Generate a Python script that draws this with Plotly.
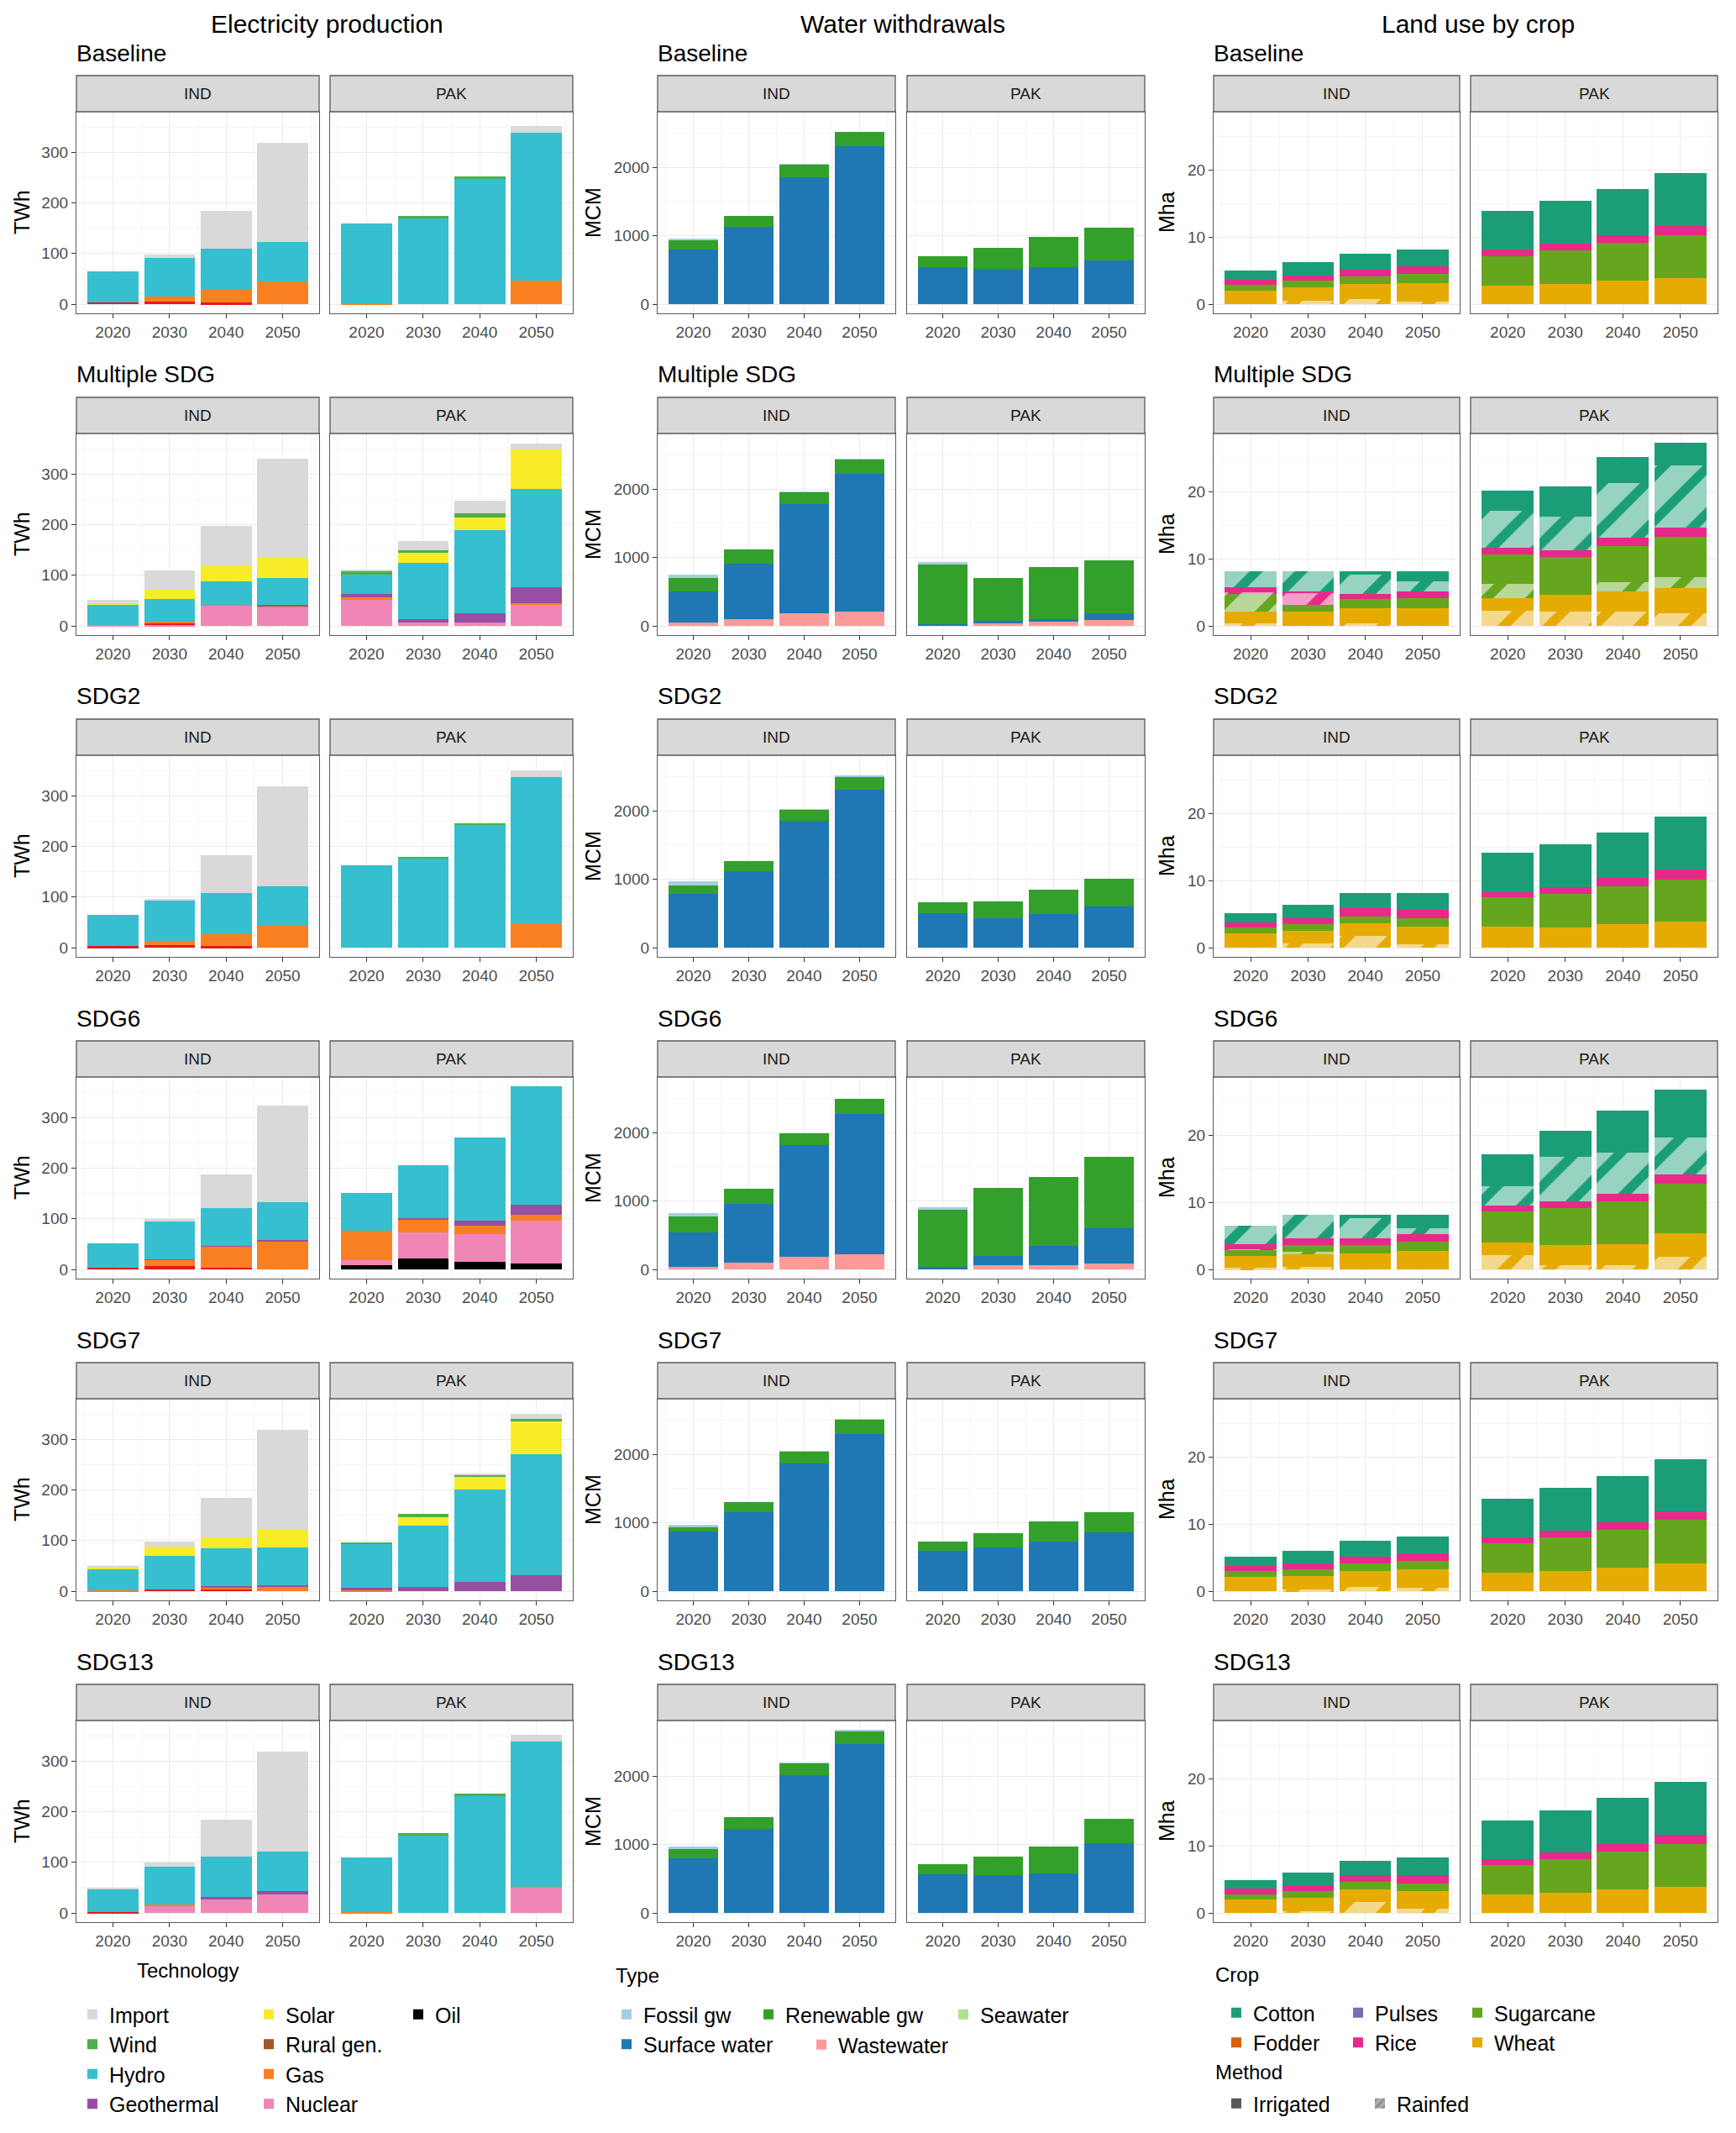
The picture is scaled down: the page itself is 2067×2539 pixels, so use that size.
import plotly.graph_objects as go

YEARS = [2020, 2030, 2040, 2050]
COUNTRIES = ["IND", "PAK"]
SCENARIOS = ["Baseline", "Multiple SDG", "SDG2", "SDG6", "SDG7", "SDG13"]

# stacking order, bottom to top
TECHNOLOGIES = ["Oil", "Nuclear", "Other", "Gas", "Rural gen.", "Geothermal", "Hydro", "Solar", "Wind", "Import"]
WATER_TYPES = ["Wastewater", "Surface water", "Seawater", "Renewable gw", "Fossil gw"]
CROPS = ["Wheat", "Sugarcane", "Rice", "Pulses", "Fodder", "Cotton"]

# ---- electricity production (TWh) ----
ELEC_BASELINE_IND = {"Other": [4, 5, 3, 0], "Gas": [0, 10, 26, 45], "Hydro": [61, 77, 80, 78], "Import": [0, 6, 75, 195]}
ELEC_BASELINE_PAK = {"Gas": [1, 0, 0, 46], "Hydro": [159, 171, 249, 292], "Wind": [0, 3, 3, 0], "Import": [0, 0, 0, 14]}
ELEC_MULTI_IND = {"Nuclear": [1, 3, 40, 38], "Other": [0, 3, 0, 0], "Gas": [0, 2, 2, 1], "Geothermal": [0, 0, 0, 3],
                  "Hydro": [40, 46, 46, 53], "Solar": [4, 17, 31, 39], "Import": [6, 38, 79, 197]}
ELEC_MULTI_PAK = {"Nuclear": [52, 6, 7, 41], "Gas": [4, 0, 0, 4], "Geothermal": [7, 8, 18, 32], "Hydro": [39, 111, 165, 193],
                  "Solar": [0, 19, 25, 78], "Wind": [7, 6, 7, 0], "Import": [1, 18, 26, 12]}
ELEC_SDG2_IND = {"Other": [3, 5, 3, 0], "Gas": [0, 9, 24, 43], "Hydro": [62, 79, 81, 78], "Import": [0, 4, 75, 197]}
ELEC_SDG2_PAK = {"Gas": [0, 0, 0, 46], "Hydro": [162, 177, 244, 291], "Wind": [0, 2, 2, 0], "Import": [0, 0, 0, 13]}
ELEC_SDG6_IND = {"Other": [4, 7, 4, 0], "Gas": [0, 12, 41, 56], "Geothermal": [0, 1, 2, 3], "Hydro": [47, 74, 74, 74],
                 "Import": [0, 6, 67, 190]}
ELEC_SDG6_PAK = {"Oil": [8, 21, 15, 11], "Nuclear": [10, 52, 55, 85], "Gas": [59, 25, 17, 12], "Geothermal": [0, 4, 10, 20],
                 "Hydro": [74, 104, 163, 234]}
ELEC_SDG7_IND = {"Other": [0, 4, 5, 0], "Gas": [1, 0, 2, 8], "Geothermal": [0, 0, 3, 4], "Hydro": [43, 66, 75, 74],
                 "Solar": [4, 18, 21, 35], "Import": [1, 10, 78, 198]}
ELEC_SDG7_PAK = {"Gas": [1, 0, 0, 0], "Geothermal": [5, 8, 18, 32], "Hydro": [87, 121, 183, 238], "Solar": [0, 17, 24, 66],
                 "Wind": [4, 6, 5, 5], "Import": [0, 0, 3, 9]}
ELEC_SDG13_IND = {"Other": [2, 0, 0, 0], "Nuclear": [0, 14, 28, 37], "Gas": [0, 3, 0, 0], "Geothermal": [0, 0, 3, 6],
                  "Hydro": [46, 75, 81, 79], "Import": [2, 7, 73, 196]}
ELEC_SDG13_PAK = {"Gas": [1, 0, 0, 2], "Nuclear": [0, 0, 0, 50], "Hydro": [108, 154, 232, 287], "Wind": [0, 3, 3, 0],
                  "Import": [0, 0, 0, 13]}

# ---- water withdrawals (MCM) ----
WATER_BASELINE_IND = {"Surface water": [800, 1130, 1850, 2310], "Renewable gw": [130, 160, 190, 210], "Fossil gw": [35, 0, 5, 0]}
WATER_BASELINE_PAK = {"Surface water": [540, 520, 540, 640], "Renewable gw": [160, 300, 440, 480]}
WATER_MULTI_IND = {"Wastewater": [55, 105, 190, 215], "Surface water": [455, 800, 1590, 2010],
                   "Renewable gw": [190, 215, 175, 210], "Fossil gw": [50, 0, 5, 5]}
WATER_MULTI_PAK = {"Wastewater": [0, 50, 65, 90], "Surface water": [30, 20, 35, 90],
                   "Renewable gw": [870, 630, 760, 785], "Fossil gw": [40, 0, 0, 0]}
WATER_SDG2_IND = {"Surface water": [790, 1120, 1855, 2310], "Renewable gw": [125, 150, 160, 190], "Fossil gw": [55, 0, 5, 10]}
WATER_SDG2_PAK = {"Surface water": [510, 430, 488, 605], "Renewable gw": [150, 248, 360, 408]}
WATER_SDG6_IND = {"Wastewater": [40, 100, 185, 220], "Surface water": [505, 865, 1635, 2050],
                  "Renewable gw": [225, 215, 175, 220], "Fossil gw": [55, 0, 0, 0]}
WATER_SDG6_PAK = {"Wastewater": [0, 60, 60, 90], "Surface water": [40, 140, 290, 515],
                  "Renewable gw": [830, 995, 1005, 1040], "Fossil gw": [40, 0, 0, 0]}
WATER_SDG7_IND = {"Surface water": [870, 1160, 1865, 2295], "Renewable gw": [70, 140, 175, 215], "Fossil gw": [30, 0, 5, 5]}
WATER_SDG7_PAK = {"Surface water": [595, 645, 725, 860], "Renewable gw": [125, 200, 290, 300]}
WATER_SDG13_IND = {"Surface water": [800, 1225, 2010, 2467], "Renewable gw": [135, 170, 183, 192], "Fossil gw": [40, 0, 5, 20]}
WATER_SDG13_PAK = {"Surface water": [570, 550, 577, 1015], "Renewable gw": [140, 275, 400, 360]}

# ---- land use by crop (Mha), irrigated and rainfed ----
LAND_BASELINE_IND_IRR = {"Wheat": [2.0, 2.0, 2.2, 2.8], "Sugarcane": [0.9, 1.0, 1.1, 1.3], "Rice": [0.8, 0.8, 1.0, 1.1], "Cotton": [1.3, 2.0, 2.4, 2.6]}
LAND_BASELINE_IND_RAIN = {"Wheat": [0, 0.5, 0.8, 0.4]}
LAND_BASELINE_PAK_IRR = {"Wheat": [2.8, 3.0, 3.5, 3.9], "Sugarcane": [4.4, 5.0, 5.6, 6.4], "Rice": [0.9, 1.0, 1.2, 1.4], "Cotton": [5.8, 6.4, 6.9, 7.8]}
LAND_BASELINE_PAK_RAIN = {}
LAND_MULTI_IND_IRR = {"Wheat": [1.7, 2.1, 2.3, 2.7], "Sugarcane": [0, 1.1, 1.3, 1.4], "Rice": [0.8, 0.2, 0.8, 1.1], "Cotton": [0, 0, 0.5, 1.5]}
LAND_MULTI_IND_RAIN = {"Wheat": [0.4, 0, 0.4, 0], "Sugarcane": [2.7, 0, 0, 0], "Rice": [0.2, 1.7, 0, 0], "Cotton": [2.4, 3.1, 2.9, 1.5]}
LAND_MULTI_PAK_IRR = {"Wheat": [1.9, 2.5, 3.0, 3.7], "Sugarcane": [4.4, 5.7, 5.4, 6.0], "Rice": [0.9, 1.0, 1.3, 1.3], "Cotton": [3.0, 4.5, 3.9, 3.4]}
LAND_MULTI_PAK_RAIN = {"Wheat": [2.3, 2.1, 2.1, 1.9], "Sugarcane": [2.1, 0, 1.4, 1.7], "Cotton": [5.5, 5.0, 8.1, 9.3]}
LAND_SDG2_IND_IRR = {"Wheat": [2.1, 1.9, 1.8, 2.7], "Sugarcane": [0.9, 1.0, 1.1, 1.2], "Rice": [0.8, 0.9, 1.2, 1.3], "Cotton": [1.4, 2.0, 2.3, 2.5]}
LAND_SDG2_IND_RAIN = {"Wheat": [0, 0.6, 1.8, 0.5]}
LAND_SDG2_PAK_IRR = {"Wheat": [3.1, 3.0, 3.5, 3.9], "Sugarcane": [4.4, 5.0, 5.7, 6.3], "Rice": [0.8, 1.0, 1.2, 1.4], "Cotton": [5.9, 6.4, 6.8, 7.9]}
LAND_SDG2_PAK_RAIN = {}
LAND_SDG6_IND_IRR = {"Wheat": [1.8, 1.9, 2.4, 2.8], "Sugarcane": [0.9, 1.0, 1.2, 1.3], "Rice": [0.8, 0.9, 1.0, 1.2], "Cotton": [0, 0, 0.5, 2.1]}
LAND_SDG6_IND_RAIN = {"Wheat": [0.2, 0.4, 0, 0], "Sugarcane": [0, 0.4, 0, 0], "Rice": [0.1, 0, 0, 0], "Cotton": [2.7, 3.6, 3.1, 0.8]}
LAND_SDG6_PAK_IRR = {"Wheat": [1.9, 3.0, 3.2, 3.5], "Sugarcane": [4.7, 5.6, 6.3, 7.4], "Rice": [0.8, 1.0, 1.2, 1.4], "Cotton": [4.8, 3.8, 6.2, 7.1]}
LAND_SDG6_PAK_RAIN = {"Wheat": [2.1, 0.6, 0.6, 1.9], "Cotton": [2.9, 6.6, 6.1, 5.5]}
LAND_SDG7_IND_IRR = {"Wheat": [2.1, 2.1, 2.3, 2.8], "Sugarcane": [0.9, 1.0, 1.1, 1.2], "Rice": [0.8, 0.9, 1.05, 1.1], "Cotton": [1.3, 1.85, 2.35, 2.6]}
LAND_SDG7_IND_RAIN = {"Wheat": [0, 0.2, 0.7, 0.5]}
LAND_SDG7_PAK_IRR = {"Wheat": [2.8, 3.0, 3.5, 4.2], "Sugarcane": [4.4, 5.0, 5.7, 6.4], "Rice": [0.8, 1.0, 1.1, 1.3], "Cotton": [5.8, 6.4, 6.9, 7.7]}
LAND_SDG7_PAK_RAIN = {}
LAND_SDG13_IND_IRR = {"Wheat": [2.0, 2.0, 1.9, 2.6], "Sugarcane": [0.8, 1.0, 1.1, 1.1], "Rice": [0.8, 0.8, 1.05, 1.2], "Cotton": [1.3, 1.9, 2.15, 2.65]}
LAND_SDG13_IND_RAIN = {"Wheat": [0, 0.3, 1.6, 0.7]}
LAND_SDG13_PAK_IRR = {"Wheat": [2.8, 3.0, 3.5, 3.9], "Sugarcane": [4.3, 5.0, 5.6, 6.4], "Rice": [0.9, 1.0, 1.2, 1.4], "Cotton": [5.8, 6.3, 6.9, 7.8]}
LAND_SDG13_PAK_RAIN = {}

TECH_COLORS = {"Import": "#D9D9D9", "Wind": "#4DAF4A", "Hydro": "#36BFCE", "Geothermal": "#984EA3", "Solar": "#F7EC27",
               "Rural gen.": "#A65628", "Gas": "#F98021", "Nuclear": "#F086B6", "Oil": "#000000", "Other": "#E41A1C"}
TYPE_COLORS = {"Fossil gw": "#A6CEE3", "Renewable gw": "#33A02C", "Seawater": "#B2DF8A", "Surface water": "#1F78B4",
               "Wastewater": "#FB9A99"}
CROP_COLORS = {"Cotton": "#1B9E77", "Fodder": "#D95F02", "Pulses": "#7570B3", "Rice": "#E7298A", "Sugarcane": "#66A61E",
               "Wheat": "#E6AB02"}

ELEC = [[ELEC_BASELINE_IND, ELEC_BASELINE_PAK], [ELEC_MULTI_IND, ELEC_MULTI_PAK], [ELEC_SDG2_IND, ELEC_SDG2_PAK],
        [ELEC_SDG6_IND, ELEC_SDG6_PAK], [ELEC_SDG7_IND, ELEC_SDG7_PAK], [ELEC_SDG13_IND, ELEC_SDG13_PAK]]
WATER = [[WATER_BASELINE_IND, WATER_BASELINE_PAK], [WATER_MULTI_IND, WATER_MULTI_PAK], [WATER_SDG2_IND, WATER_SDG2_PAK],
         [WATER_SDG6_IND, WATER_SDG6_PAK], [WATER_SDG7_IND, WATER_SDG7_PAK], [WATER_SDG13_IND, WATER_SDG13_PAK]]
LAND = [[(LAND_BASELINE_IND_IRR, LAND_BASELINE_IND_RAIN), (LAND_BASELINE_PAK_IRR, LAND_BASELINE_PAK_RAIN)],
        [(LAND_MULTI_IND_IRR, LAND_MULTI_IND_RAIN), (LAND_MULTI_PAK_IRR, LAND_MULTI_PAK_RAIN)],
        [(LAND_SDG2_IND_IRR, LAND_SDG2_IND_RAIN), (LAND_SDG2_PAK_IRR, LAND_SDG2_PAK_RAIN)],
        [(LAND_SDG6_IND_IRR, LAND_SDG6_IND_RAIN), (LAND_SDG6_PAK_IRR, LAND_SDG6_PAK_RAIN)],
        [(LAND_SDG7_IND_IRR, LAND_SDG7_IND_RAIN), (LAND_SDG7_PAK_IRR, LAND_SDG7_PAK_RAIN)],
        [(LAND_SDG13_IND_IRR, LAND_SDG13_IND_RAIN), (LAND_SDG13_PAK_IRR, LAND_SDG13_PAK_RAIN)]]

# page is 2067x2539, the html body adds an 8px margin around the figure
PAGE_W, PAGE_H, BODY = 2067, 2539, 8
W, H = PAGE_W - 2 * BODY, PAGE_H - 2 * BODY
FONT = "Liberation Sans, Arial, sans-serif"
ROW_TOP0, ROW_PITCH, STRIP_H, PANEL_H = 90, 383, 43, 240


def px(x):
    return (x - BODY) / W


def py(y):
    return 1 - (y - BODY) / H


def light(hex_color, alpha=0.45):
    h = hex_color.lstrip("#")
    rgb = [int(h[i:i + 2], 16) for i in (0, 2, 4)]
    return "rgb({},{},{})".format(*[round(255 - (255 - v) * alpha) for v in rgb])


def rainfed_pattern(color):
    return dict(shape="/", fgcolor=color, bgcolor=light(color), size=38, solidity=0.3, fillmode="replace")


def stack_max(panels):
    return max(sum(v[i] for v in p.values()) for row in panels for p in row for i in range(len(YEARS)))


land_max = max(sum(v[i] for d in pair for v in d.values()) for row in LAND for pair in row for i in range(len(YEARS)))

GROUPS = [
    dict(key="elec", title="Electricity production", title_x=389, unit="TWh", unit_x=26,
         xs=[(91, 380), (393, 682)], ymax=stack_max(ELEC), major=[0, 100, 200, 300], minor=[50, 150, 250, 350]),
    dict(key="water", title="Water withdrawals", title_x=1075, unit="MCM", unit_x=706,
         xs=[(783, 1066), (1080, 1363)], ymax=stack_max(WATER), major=[0, 1000, 2000], minor=[500, 1500, 2500]),
    dict(key="land", title="Land use by crop", title_x=1760, unit="Mha", unit_x=1389,
         xs=[(1445, 1738), (1751, 2045)], ymax=land_max, major=[0, 10, 20], minor=[5, 15, 25]),
]

fig = go.Figure()
layout_axes = {}
shapes = []
annotations = []

n = 0
for g in GROUPS:
    annotations.append(dict(x=px(g["title_x"]), y=py(29), xref="paper", yref="paper", text=g["title"], showarrow=False,
                            font=dict(size=30, color="black"), xanchor="center", yanchor="middle"))
    for r, scen in enumerate(SCENARIOS):
        strip_top = ROW_TOP0 + ROW_PITCH * r
        strip_bot = strip_top + STRIP_H
        panel_bot = strip_bot + PANEL_H
        annotations.append(dict(x=px(g["xs"][0][0] - 2), y=py(strip_top - 27), xref="paper", yref="paper", text=scen,
                                showarrow=False, font=dict(size=28, color="black"), xanchor="left", yanchor="middle"))
        annotations.append(dict(x=px(g["unit_x"]), y=py((strip_bot + panel_bot) / 2), xref="paper", yref="paper",
                                text=g["unit"], textangle=-90, showarrow=False, font=dict(size=25, color="black"),
                                xanchor="center", yanchor="middle"))
        for c, country in enumerate(COUNTRIES):
            n += 1
            x0, x1 = g["xs"][c]
            xa, ya = f"x{n}", f"y{n}"
            layout_axes[f"xaxis{n}"] = dict(
                domain=[px(x0), px(x1)], anchor=ya, range=[2013.55, 2056.45], tickvals=YEARS,
                ticks="outside", ticklen=5, tickcolor="#333333", tickfont=dict(size=19, color="#4D4D4D"),
                showline=True, mirror=True, linecolor="#5A5A5A", linewidth=1.3,
                showgrid=True, gridcolor="#EBEBEB", gridwidth=1.3, zeroline=False,
                minor=dict(tickvals=[2015, 2025, 2035, 2045, 2055], showgrid=True, gridcolor="#F5F5F5",
                           gridwidth=0.7, ticks=""),
                fixedrange=True)
            ymax = g["ymax"]
            layout_axes[f"yaxis{n}"] = dict(
                domain=[py(panel_bot), py(strip_bot)], anchor=xa, range=[-0.05 * ymax, 1.05 * ymax],
                tickvals=g["major"], showticklabels=(c == 0), ticks="outside" if c == 0 else "",
                ticklen=5, tickcolor="#333333", tickfont=dict(size=19, color="#4D4D4D"),
                showline=True, mirror=True, linecolor="#5A5A5A", linewidth=1.3,
                showgrid=True, gridcolor="#EBEBEB", gridwidth=1.3, zeroline=False,
                minor=dict(tickvals=g["minor"], showgrid=True, gridcolor="#F5F5F5", gridwidth=0.7, ticks=""),
                fixedrange=True)
            # facet strip
            shapes.append(dict(type="rect", xref="paper", yref="paper", x0=px(x0), x1=px(x1), y0=py(strip_bot),
                               y1=py(strip_top), fillcolor="#D9D9D9", line=dict(color="#5A5A5A", width=1.3)))
            annotations.append(dict(x=px((x0 + x1) / 2), y=py((strip_top + strip_bot) / 2), xref="paper", yref="paper",
                                    text=country, showarrow=False, font=dict(size=19, color="#1A1A1A"),
                                    xanchor="center", yanchor="middle"))

            if g["key"] == "elec":
                data = ELEC[r][c]
                for tech in TECHNOLOGIES:
                    if tech in data:
                        fig.add_trace(go.Bar(x=YEARS, y=data[tech], width=9, name=tech, xaxis=xa, yaxis=ya,
                                             marker=dict(color=TECH_COLORS[tech], line=dict(width=0)),
                                             showlegend=False, hoverinfo="skip"))
            elif g["key"] == "water":
                data = WATER[r][c]
                for wt in WATER_TYPES:
                    if wt in data:
                        fig.add_trace(go.Bar(x=YEARS, y=data[wt], width=9, name=wt, xaxis=xa, yaxis=ya,
                                             marker=dict(color=TYPE_COLORS[wt], line=dict(width=0)),
                                             showlegend=False, hoverinfo="skip"))
            else:
                irr, rain = LAND[r][c]
                for crop in CROPS:
                    col = CROP_COLORS[crop]
                    if crop in rain:
                        fig.add_trace(go.Bar(x=YEARS, y=rain[crop], width=9, name=crop + " rainfed", xaxis=xa, yaxis=ya,
                                             marker=dict(color=light(col), line=dict(width=0),
                                                         pattern=rainfed_pattern(col)),
                                             showlegend=False, hoverinfo="skip"))
                    if crop in irr:
                        fig.add_trace(go.Bar(x=YEARS, y=irr[crop], width=9, name=crop, xaxis=xa, yaxis=ya,
                                             marker=dict(color=col, line=dict(width=0)),
                                             showlegend=False, hoverinfo="skip"))

# ---- legends (one plotly legend per block of keys) ----
LEGEND_BLOCKS = [
    ("legend", ["Import", "Wind", "Hydro", "Geothermal"], TECH_COLORS, 90, 2375),
    ("legend2", ["Solar", "Rural gen.", "Gas", "Nuclear"], TECH_COLORS, 300, 2375),
    ("legend3", ["Oil"], TECH_COLORS, 478, 2375),
    ("legend4", ["Fossil gw", "Surface water"], TYPE_COLORS, 726, 2375),
    ("legend5", ["Renewable gw"], TYPE_COLORS, 895, 2375),
    ("legend6", ["Seawater"], TYPE_COLORS, 1127, 2375),
    ("legend7", ["Wastewater"], TYPE_COLORS, 958, 2411),
    ("legend8", ["Cotton", "Fodder"], CROP_COLORS, 1452, 2373),
    ("legend9", ["Pulses", "Rice"], CROP_COLORS, 1597, 2373),
    ("legend10", ["Sugarcane", "Wheat"], CROP_COLORS, 1739, 2373),
]
legend_layout = {}
for lid, names, colors, lx, ly in LEGEND_BLOCKS:
    for name in names:
        fig.add_trace(go.Bar(x=[None], y=[None], name=name, legend=lid, xaxis="x1", yaxis="y1",
                             marker=dict(color=colors[name], line=dict(width=0)), showlegend=True, hoverinfo="skip"))
    legend_layout[lid] = dict(x=px(lx), y=py(ly), xanchor="left", yanchor="top", orientation="v",
                              traceorder="normal", font=dict(size=25, color="black"), bgcolor="rgba(0,0,0,0)",
                              borderwidth=0, tracegroupgap=0, itemclick=False, itemdoubleclick=False)

fig.add_trace(go.Bar(x=[None], y=[None], name="Irrigated", legend="legend11", xaxis="x1", yaxis="y1",
                     marker=dict(color="#595959", line=dict(width=0)), showlegend=True, hoverinfo="skip"))
fig.add_trace(go.Bar(x=[None], y=[None], name="Rainfed", legend="legend11", xaxis="x1", yaxis="y1",
                     marker=dict(color="#ACACAC", line=dict(width=0),
                                 pattern=dict(shape="/", fgcolor="#595959", bgcolor="#ACACAC", size=8, solidity=0.3)),
                     showlegend=True, hoverinfo="skip"))
legend_layout["legend11"] = dict(x=px(1452), y=py(2481), xanchor="left", yanchor="top", orientation="h",
                                 traceorder="normal", entrywidth=126, font=dict(size=25, color="black"),
                                 bgcolor="rgba(0,0,0,0)", borderwidth=0, itemclick=False, itemdoubleclick=False)

for text, lx, ly in [("Technology", 161, 2345), ("Type", 731, 2351), ("Crop", 1445, 2350), ("Method", 1445, 2466)]:
    annotations.append(dict(x=px(lx), y=py(ly), xref="paper", yref="paper", text=text, showarrow=False,
                            font=dict(size=24, color="black"), xanchor="left", yanchor="middle"))

fig.update_layout(
    width=W, height=H, margin=dict(l=0, r=0, t=0, b=0),
    paper_bgcolor="white", plot_bgcolor="white",
    font=dict(family=FONT, color="black"),
    barmode="stack", hovermode=False,
    shapes=shapes, annotations=annotations,
    **layout_axes, **legend_layout,
)

fig.write_html("out.html")
